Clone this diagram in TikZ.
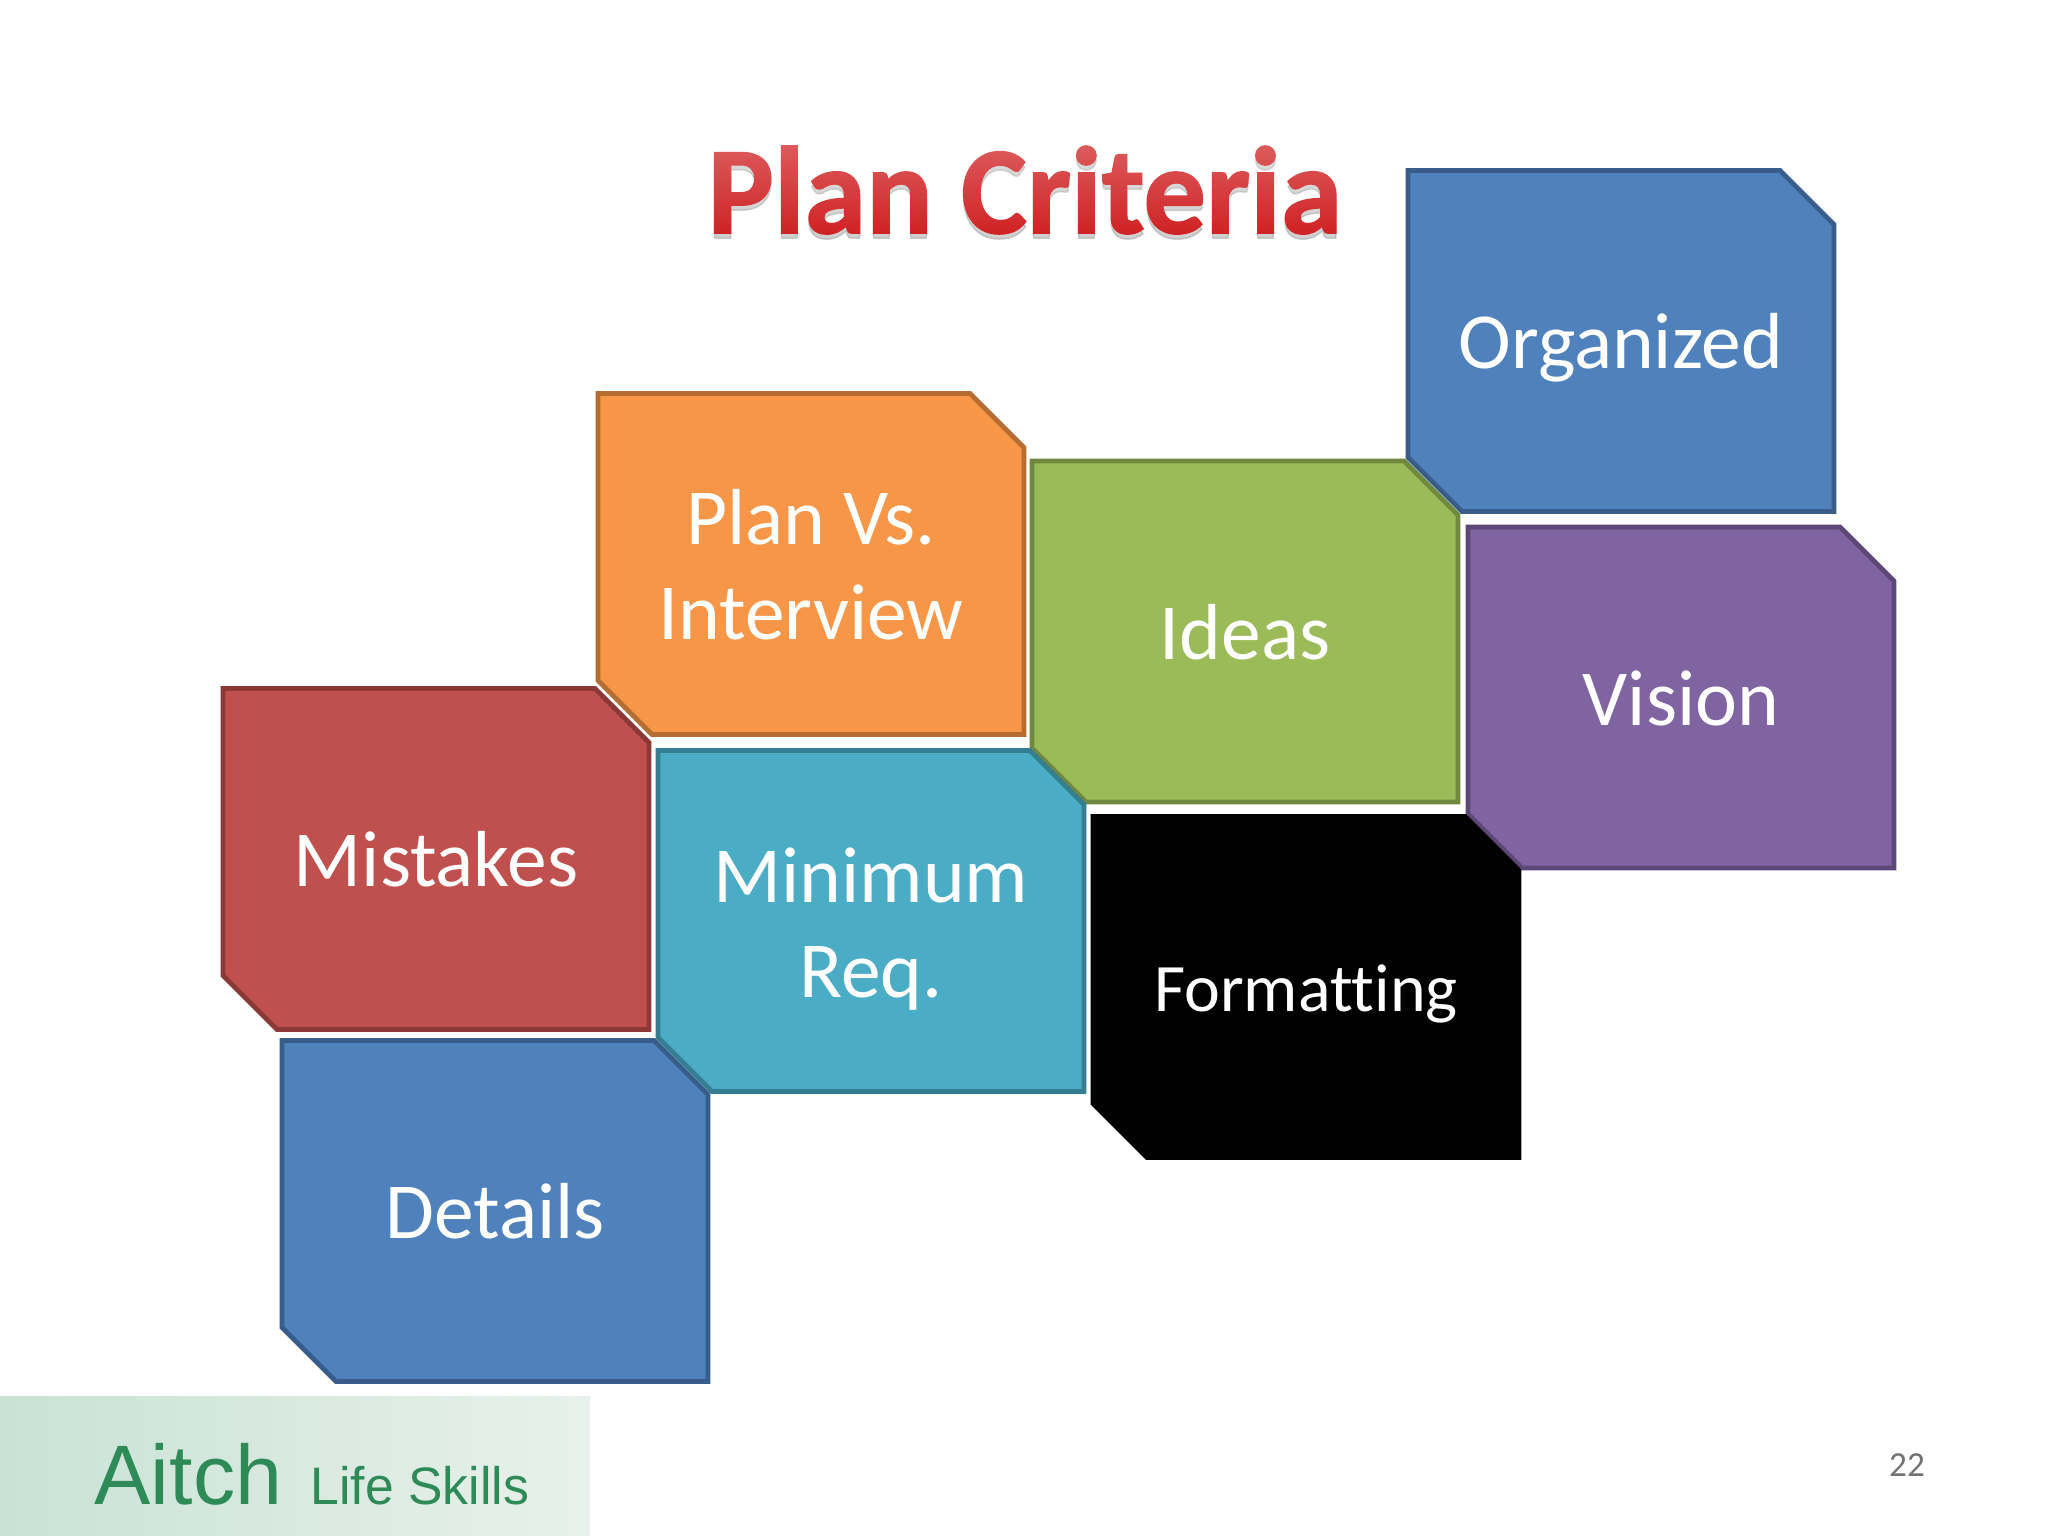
\documentclass[tikz,border=0pt]{standalone}
\usepackage{fontspec}
\setmainfont[Ligatures=NoCommon]{Carlito}
\newfontfamily\logofont{Liberation Sans}
\newfontfamily\titlefont[Ligatures=NoCommon,BoldFeatures={FakeBold=1.2}]{Carlito}
\usetikzlibrary{fadings}
\definecolor{bluefill}{HTML}{4F81BD}\definecolor{blueline}{HTML}{385D8A}
\definecolor{orangefill}{HTML}{F79646}\definecolor{orangeline}{HTML}{B66D31}
\definecolor{greenfill}{HTML}{9BBB59}\definecolor{greenline}{HTML}{71893F}
\definecolor{purplefill}{HTML}{8064A2}\definecolor{purpleline}{HTML}{5C4776}
\definecolor{redfill}{HTML}{C0504D}\definecolor{redline}{HTML}{8C3836}
\definecolor{tealfill}{HTML}{4BACC6}\definecolor{tealline}{HTML}{357D91}
\definecolor{titlered}{HTML}{D02022}
\definecolor{logogreen}{HTML}{2E8B57}
\definecolor{logoL}{HTML}{C9E2D5}
\definecolor{logoR}{HTML}{E8F1EB}
\newcommand\tstrut{\rule[-7.4pt]{0pt}{27pt}}
% #1 name, #2 centre x, #3 centre y, #4 fill, #5 line, #6 node options, #7 text
\newcommand\tile[7]{%
  \draw[line width=1.4pt, line join=miter, fill=#4, draw=#5, shift={(#2,#3)}]
    (-213,-170.5) -- (159,-170.5) -- (213,-116.5) -- (213,170.5)
    -- (-159,170.5) -- (-213,116.5) -- cycle;
  \node[tiletext,#6] (#1) at (#2,#3+6.5) {#7};
}
\tikzfading[name=titlefade, top color=transparent!72, bottom color=transparent!100]
\tikzset{
  tiletext/.style={inner sep=0pt, text=white, align=center, font=\fontsize{22.6}{27}\selectfont},
  titletext/.style={inner sep=0pt, font=\titlefont\bfseries\fontsize{35.4}{40}\selectfont}
}
\begin{document}
\begin{tikzpicture}[x=0.01cm,y=-0.01cm]
\useasboundingbox (0,0) rectangle (2048,1536);
\fill[white] (0,0) rectangle (2048,1536);
% footer band
\node[inner sep=0pt, minimum width=5.9cm, minimum height=1.39cm, left color=logoL, right color=logoR] (band) at (295,1466.5) {};
\node[anchor=base west, inner sep=0pt, text=logogreen, font=\logofont\fontsize{24}{24}\selectfont] (aitch) at (94,1504) {Aitch};
\node[anchor=base west, inner sep=0pt, text=logogreen, xscale=0.98, font=\logofont\fontsize{15}{15}\selectfont] (life) at (310,1504) {Life Skills};
\node[anchor=center, inner sep=0pt, text=black!55, font=\fontsize{10}{10}\selectfont] (num) at (1907,1465) {22};
% title
\node[titletext, text=black!40, opacity=0.45] (titleshadow) at (1025,195) {Plan Criteria};
\node[titletext, text=titlered] (title) at (1025,190) {Plan Criteria};
\fill[white, path fading=titlefade] (690,140) rectangle (1360,238);
% tiles
\tile{organized}{1621}{341}{bluefill}{blueline}{}{Organized\tstrut}
\tile{planvs}{811}{564}{orangefill}{orangeline}{}{Plan Vs.\tstrut\\Interview\tstrut}
\tile{ideas}{1245}{631.5}{greenfill}{greenline}{}{Ideas\tstrut}
\tile{vision}{1681}{697.5}{purplefill}{purpleline}{}{Vision\tstrut}
\tile{mistakes}{436}{859}{redfill}{redline}{}{Mistakes\tstrut}
\tile{minimum}{871}{921}{tealfill}{tealline}{yshift=-0.01cm}{Minimum\tstrut\\Req.\tstrut}
\tile{formatting}{1306}{987}{black}{black}{font=\fontsize{19.3}{27}\selectfont, yshift=0.03cm}{Formatting\tstrut}
\tile{details}{495}{1211}{bluefill}{blueline}{}{Details\tstrut}
\end{tikzpicture}
\end{document}
